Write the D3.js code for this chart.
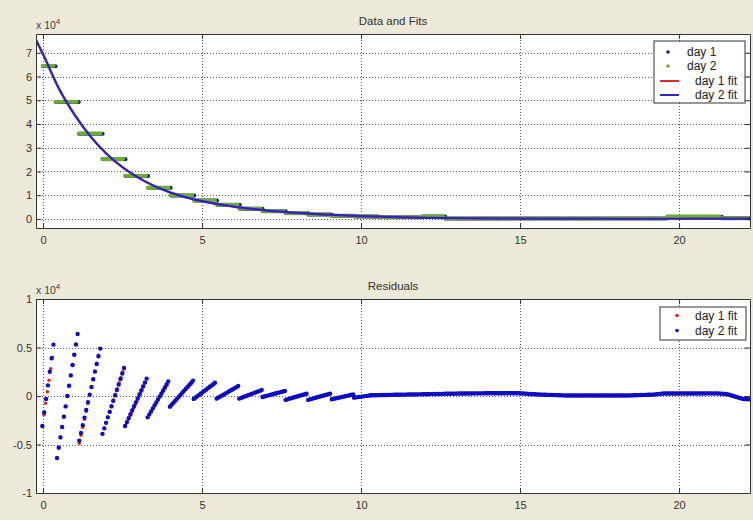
<!DOCTYPE html>
<html>
<head>
<meta charset="utf-8">
<script src="https://cdn.jsdelivr.net/npm/d3@7"></script>
<style>
  body { margin: 0; background: #ece9d8; }
  svg { display: block; font-family: "Liberation Sans", Arial, sans-serif; }
</style>
</head>
<body>
<svg id="chart" width="753" height="520"></svg>
<script>
// Data (counts; residuals in counts)
const xTicks = [0, 5, 10, 15, 20]
const topYTicks = [0, 10000, 20000, 30000, 40000, 50000, 60000, 70000]
const resYTicks = [-10000, -5000, 0, 5000, 10000]

// measured levels come in flat steps
const day1Start = [0.0, 0.4, 1.13, 1.88, 2.6, 3.31, 4.02, 4.76, 5.48, 6.19, 6.91, 7.64, 8.34, 9.07, 9.8, 10.55, 11.95, 12.65, 19.65, 21.35]
const day1End = [0.4, 1.13, 1.88, 2.6, 3.31, 4.02, 4.76, 5.48, 6.19, 6.91, 7.64, 8.34, 9.07, 9.8, 10.55, 11.95, 12.65, 19.65, 21.35, 22.23]
const day1Level = [64300, 49250, 35850, 25200, 18100, 13100, 9900, 7750, 5950, 4350, 3250, 2450, 1850, 1380, 1080, 680, 1050, 180, 950, 280]

const day2Start = [-0.04, 0.36, 1.09, 1.84, 2.55, 3.27, 3.98, 4.72, 5.44, 6.15, 6.87, 7.6, 8.3, 9.03, 9.76, 10.5, 11.9, 12.6, 19.6, 21.3]
const day2End = [0.36, 1.09, 1.84, 2.55, 3.27, 3.98, 4.72, 5.44, 6.15, 6.87, 7.6, 8.3, 9.03, 9.76, 10.5, 11.9, 12.6, 19.6, 21.3, 22.23]
const day2Level = [64500, 49400, 36000, 25300, 18200, 13200, 10000, 7800, 6000, 4400, 3300, 2500, 1900, 1400, 1100, 700, 1100, 200, 1000, 300]

// fitted curves
const fitX = [-0.22, 0, 0.5, 1, 1.5, 2, 2.5, 3, 3.5, 4, 4.5, 5, 6, 7, 8, 9, 10, 11, 12, 14, 16, 18, 20, 22.23]
const fit1Y = [75300, 69300, 54800, 43600, 34600, 27400, 21700, 17300, 13800, 11100, 9000, 7450, 5150, 3600, 2500, 1750, 1180, 790, 490, 240, 140, 90, 90, 140]
const fit2Y = [75500, 69500, 55000, 43800, 34700, 27500, 21800, 17400, 13900, 11200, 9100, 7500, 5200, 3650, 2550, 1800, 1200, 800, 500, 250, 150, 100, 100, 150]

// residuals: one rising run per step
const res1Start = [-0.03, 0.43, 1.13, 1.86, 2.57, 3.28, 3.98, 4.73, 5.45, 6.16, 6.89, 7.62, 8.33, 9.07, 9.77]
const res1End = [0.34, 1.1, 1.79, 2.56, 3.27, 3.95, 4.73, 5.42, 6.15, 6.89, 7.62, 8.3, 9.04, 9.77, 10.3]
const res1Low = [-3300, -6500, -5000, -4000, -3200, -2250, -1150, -350, -300, -300, -120, -420, -420, -360, -190]
const res1High = [5000, 6200, 4900, 3000, 1700, 1400, 1500, 1300, 1000, 600, 500, 230, 230, 160, 60]

const res2Start = [-0.02, 0.44, 1.14, 1.87, 2.58, 3.29, 3.99, 4.74, 5.46, 6.17, 6.9, 7.63, 8.34, 9.08, 9.78]
const res2End = [0.33, 1.09, 1.8, 2.55, 3.26, 3.94, 4.72, 5.41, 6.14, 6.88, 7.61, 8.29, 9.03, 9.76, 10.3]
const res2Low = [-3100, -6400, -4600, -3900, -3100, -2200, -1100, -300, -270, -270, -100, -400, -400, -340, -170]
const res2High = [5300, 6400, 4900, 2900, 1800, 1500, 1600, 1370, 1030, 620, 520, 240, 240, 170, 70]

// after x=10 the residuals flatten out
const tailX = [10.3, 11, 12, 13, 14, 15, 15.6, 16.5, 18.4, 19.2, 19.5, 21.2, 21.5, 22.0, 22.23]
const tail1Res = [60, 110, 170, 240, 270, 270, 140, 40, 40, 140, 240, 260, 190, -310, -360]
const tail2Res = [70, 120, 180, 250, 280, 280, 150, 50, 50, 150, 250, 270, 200, -300, -350]

//Params
const params = {
    left: 36, right: 750,
    top1: 34, bottom1: 228,
    top2: 299, bottom2: 493,
    sampleDt: 0.056, // spacing between logged samples, x units
    tick: 5
}
const colors = {
    day1: "#1e1e70", day2: "#6aae38",
    fit1: "#e02a2a", fit2: "#2828c0",
    res1: "#e0282a", res2: "#0c0cc4"
}

const svg = d3.select("#chart")
svg.append("rect").attr("width", 753).attr("height", 520).attr("fill", "#ece9d8")

const x = d3.scaleLinear().domain([-0.22, 22.23]).range([params.left, params.right])
const y1 = d3.scaleLinear().domain([-3800, 77900]).range([params.bottom1, params.top1])
const y2 = d3.scaleLinear().domain([-10000, 10000]).range([params.bottom2, params.top2])

function panel(id, y, yTicks, title){
    const top = y.range()[1], bottom = y.range()[0]
    const g = svg.append("g").attr("id", id)

    g.append("rect")
        .attr("x", params.left).attr("y", top)
        .attr("width", params.right - params.left).attr("height", bottom - top)
        .attr("fill", "white")

    svg.append("clipPath").attr("id", "clip-" + id)
        .append("rect")
        .attr("x", params.left).attr("y", top)
        .attr("width", params.right - params.left).attr("height", bottom - top)

    // dotted grid
    const grid = g.append("g").attr("stroke", "#505050").attr("stroke-dasharray", "1,2").attr("stroke-width", 1)
    grid.selectAll(".gx").data(xTicks).join("line")
        .attr("x1", d => Math.round(x(d)) + 0.5).attr("x2", d => Math.round(x(d)) + 0.5)
        .attr("y1", top).attr("y2", bottom)
    grid.selectAll(".gy").data(yTicks.filter(d => y(d) > top + 1 && y(d) < bottom - 1)).join("line")
        .attr("y1", d => Math.round(y(d)) + 0.5).attr("y2", d => Math.round(y(d)) + 0.5)
        .attr("x1", params.left).attr("x2", params.right)

    const plot = g.append("g").attr("clip-path", "url(#clip-" + id + ")")

    g.append("text")
        .attr("x", (params.left + params.right) / 2).attr("y", top - 9)
        .attr("text-anchor", "middle").attr("font-size", 11.5).attr("fill", "#303030")
        .text(title)

    const exp = g.append("text").attr("x", params.left).attr("y", top - 5)
        .attr("font-size", 10.5).attr("fill", "#404040")
    exp.append("tspan").text("x 10")
    exp.append("tspan").attr("dy", -5).attr("font-size", 8).text("4")

    return {g, plot}
}

function axes(g, y, yTicks, yFmt){
    const top = y.range()[1], bottom = y.range()[0]
    const style = a => {
        a.selectAll("path, line").attr("stroke", "#333")
        a.selectAll("text").attr("fill", "#333").attr("font-size", 11).attr("font-family", "Liberation Sans, Arial, sans-serif")
    }
    g.append("g").attr("transform", "translate(0," + bottom + ")")
        .call(d3.axisBottom(x).tickValues(xTicks).tickSize(-params.tick).tickSizeOuter(0).tickPadding(8))
        .call(style)
    g.append("g").attr("transform", "translate(0," + top + ")")
        .call(d3.axisTop(x).tickValues(xTicks).tickSize(-params.tick).tickSizeOuter(0).tickFormat(""))
        .call(style)
    g.append("g").attr("transform", "translate(" + params.left + ",0)")
        .call(d3.axisLeft(y).tickValues(yTicks).tickSize(-params.tick).tickSizeOuter(0).tickPadding(4).tickFormat(yFmt))
        .call(style)
    g.append("g").attr("transform", "translate(" + params.right + ",0)")
        .call(d3.axisRight(y).tickValues(yTicks).tickSize(-params.tick).tickSizeOuter(0).tickFormat(""))
        .call(style)
}

// a run of logged samples: drawn as round dots spaced by the sample step
function dotRun(g, pts, y, color, size, phase){
    const path = g.append("path")
        .attr("d", d3.line().x(d => x(d[0])).y(d => y(d[1]))(pts))
        .attr("fill", "none")
        .attr("stroke", color)
        .attr("stroke-width", size)
        .attr("stroke-linecap", "round")
    const len = path.node().getTotalLength()
    const n = Math.max(1, Math.round((pts[pts.length - 1][0] - pts[0][0]) / params.sampleDt))
    const gap = len / n - 0.01 // keep the last sample
    path.attr("stroke-dasharray", "0 " + gap).attr("stroke-dashoffset", -phase * gap)
}

// ---- top panel: data and fits
const p1 = panel("fits", y1, topYTicks, "Data and Fits")

day1Level.forEach((v, i) => dotRun(p1.plot, [[day1Start[i], v], [day1End[i], v]], y1, colors.day1, 4, 0))
day2Level.forEach((v, i) => dotRun(p1.plot, [[day2Start[i], v], [day2End[i], v]], y1, colors.day2, 4, 0.5))

const fitLine = d3.line().curve(d3.curveMonotoneX).x((d, i) => x(fitX[i])).y(d => y1(d))
p1.plot.append("path").attr("d", fitLine(fit1Y)).attr("fill", "none").attr("stroke", colors.fit1).attr("stroke-width", 2)
p1.plot.append("path").attr("d", fitLine(fit2Y)).attr("fill", "none").attr("stroke", colors.fit2).attr("stroke-width", 2.2)

axes(p1.g, y1, topYTicks, d => d / 10000)

// ---- bottom panel: residuals
const p2 = panel("res", y2, resYTicks, "Residuals")

res1Low.forEach((v, i) => dotRun(p2.plot, [[res1Start[i], v], [res1End[i], res1High[i]]], y2, colors.res1, 3.6, 0.15))
dotRun(p2.plot, tailX.map((t, i) => [t, tail1Res[i]]), y2, colors.res1, 3.6, 0.15)
res2Low.forEach((v, i) => dotRun(p2.plot, [[res2Start[i], v], [res2End[i], res2High[i]]], y2, colors.res2, 4.4, 0))
dotRun(p2.plot, tailX.map((t, i) => [t, tail2Res[i]]), y2, colors.res2, 4.4, 0)

axes(p2.g, y2, resYTicks, d => d / 10000)

// ---- legends
function legend(rows, box, markX, textX){
    const lg = svg.append("g")
    lg.append("rect").attr("x", box[0]).attr("y", box[1]).attr("width", box[2]).attr("height", box[3])
        .attr("fill", "white").attr("stroke", "#333")
    rows.forEach(r => {
        if(r.type === "dot"){
            lg.append("circle").attr("cx", markX).attr("cy", r.y).attr("r", 1.8).attr("fill", r.color)
        } else {
            lg.append("line").attr("x1", markX - 8).attr("x2", markX + 11).attr("y1", r.y).attr("y2", r.y)
                .attr("stroke", r.color).attr("stroke-width", 2)
        }
        lg.append("text").attr("x", r.type === "dot" ? textX : textX + 8).attr("y", r.y).attr("dy", "0.35em")
            .attr("font-size", 12).attr("fill", "#202020").text(r.label)
    })
}

legend([
    {label: "day 1", type: "dot", color: colors.day1, y: 52},
    {label: "day 2", type: "dot", color: colors.day2, y: 66},
    {label: "day 1 fit", type: "line", color: colors.fit1, y: 81},
    {label: "day 2 fit", type: "line", color: colors.fit2, y: 95}
], [654, 41, 91, 62], 668, 687)

legend([
    {label: "day 1 fit", type: "dot", color: colors.res1, y: 315.5},
    {label: "day 2 fit", type: "dot", color: colors.res2, y: 330.5}
], [660, 307, 86, 33], 677, 695)
</script>
</body>
</html>
